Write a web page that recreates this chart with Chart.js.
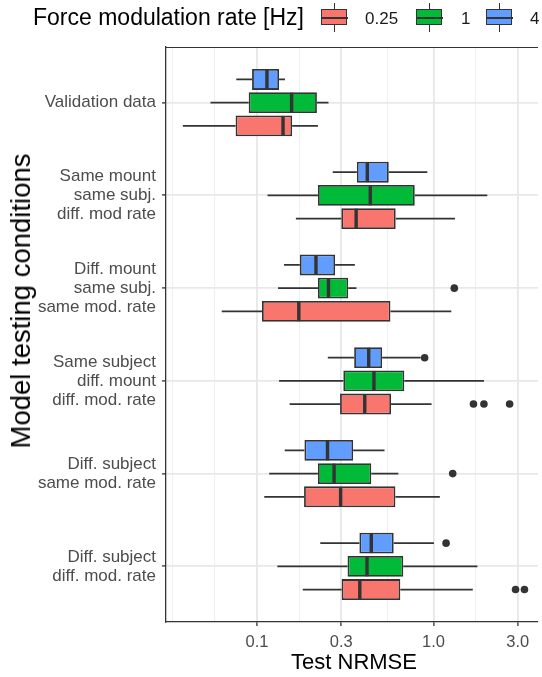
<!DOCTYPE html>
<html>
<head>
<meta charset="utf-8">
<script src="https://cdn.jsdelivr.net/npm/chart.js@4/dist/chart.umd.min.js"></script>
<style>
html,body{margin:0;padding:0;background:#fff;}
#wrap{position:relative;width:542px;height:677px;overflow:hidden;font-family:"Liberation Sans",Arial,sans-serif;color:#000;}
#c{position:absolute;left:0;top:0;}
.abs{position:absolute;white-space:nowrap;}
#ltitle{left:33px;top:6px;font-size:23px;line-height:23px;}
.lab{top:10px;font-size:17px;line-height:17px;color:#1a1a1a;}
.key{position:absolute;top:3px;width:27px;height:29px;}
.key .w{position:absolute;left:12.5px;top:0;width:1.8px;height:29px;background:#333;}
.key .b{position:absolute;left:0;top:5.5px;width:23.6px;height:14px;border:1.7px solid #333;}
.key .m{position:absolute;left:0;top:13.5px;width:27px;height:2.2px;background:#333;}
#ytitle{left:21px;top:301px;font-size:27.5px;line-height:28px;transform:translate(-50%,-50%) rotate(-90deg);}
#xtitle{left:354px;top:651px;font-size:22px;line-height:22px;transform:translateX(-50%);}
</style>
</head>
<body>
<div id="wrap">
  <canvas id="c" width="542" height="677"></canvas>
  <div id="ltitle" class="abs">Force modulation rate [Hz]</div>
  <div class="key" style="left:321px"><div class="w"></div><div class="b" style="background:#F8766D"></div><div class="m"></div></div>
  <div class="abs lab" style="left:365px">0.25</div>
  <div class="key" style="left:416px"><div class="w"></div><div class="b" style="background:#00BA38"></div><div class="m"></div></div>
  <div class="abs lab" style="left:461px">1</div>
  <div class="key" style="left:486px"><div class="w"></div><div class="b" style="background:#619CFF"></div><div class="m"></div></div>
  <div class="abs lab" style="left:530px">4</div>
  <div id="ytitle" class="abs">Model testing conditions</div>
  <div id="xtitle" class="abs">Test NRMSE</div>
</div>
<script>
// ---------- DATA ----------
const categories = [
  ["Validation data"],
  ["Same mount", "same subj.", "diff. mod rate"],
  ["Diff. mount", "same subj.", "same mod. rate"],
  ["Same subject", "diff. mount", "diff. mod. rate"],
  ["Diff. subject", "same mod. rate"],
  ["Diff. subject", "diff. mod. rate"]
];
const rateLabels = ["0.25", "1", "4"];

// 0.25 Hz
const low_025  = [0.038, 0.166, 0.0631, 0.153, 0.1099, 0.1816];
const q1_025   = [0.0756, 0.3003, 0.1067, 0.2954, 0.1847, 0.3015];
const med_025  = [0.1404, 0.3644, 0.1725, 0.4077, 0.2976, 0.3822];
const q3_025   = [0.1582, 0.6104, 0.570, 0.5744, 0.608, 0.6484];
const high_025 = [0.2213, 1.323, 1.261, 0.9745, 1.086, 1.669];
const out_025  = [[], [], [], [1.684, 1.93, 2.698], [], [2.915, 3.274]];

// 1 Hz
const low_1  = [0.0545, 0.1147, 0.1316, 0.1333, 0.1172, 0.1304];
const q1_1   = [0.0897, 0.2213, 0.2213, 0.3082, 0.2213, 0.3257];
const med_1  = [0.157, 0.4382, 0.254, 0.4597, 0.2733, 0.4199];
const q3_1   = [0.2184, 0.7826, 0.3287, 0.6828, 0.4439, 0.674];
const high_1 = [0.254, 2.017, 0.3658, 1.93, 0.632, 1.773];
const out_1  = [[], [], [1.311], [], [1.284], []];

// 4 Hz
const low_4  = [0.0763, 0.2685, 0.1422, 0.2518, 0.1435, 0.2282];
const q1_4   = [0.0938, 0.3677, 0.1748, 0.3551, 0.1856, 0.3802];
const med_4  = [0.1138, 0.4215, 0.2157, 0.4292, 0.2508, 0.4439];
const q3_4   = [0.1333, 0.5576, 0.2769, 0.5115, 0.3505, 0.5947];
const high_4 = [0.144, 0.922, 0.3583, 0.8457, 0.5277, 1.005];
const out_4  = [[], [], [], [0.8905], [], [1.178]];

const xTickValues = [0.1, 0.3, 1, 3];
const xTickLabels = ["0.1", "0.3", "1.0", "3.0"];
const xMinorGrid  = [0.0333, 0.0577, 0.1732, 0.5477, 1.732];

// ---------- BUILD ----------
// top-to-bottom order inside each group: 4 Hz, 1 Hz, 0.25 Hz
const series = [
  {name: rateLabels[2], color: "#619CFF", low: low_4, q1: q1_4, med: med_4, q3: q3_4, high: high_4, out: out_4},
  {name: rateLabels[1], color: "#00BA38", low: low_1, q1: q1_1, med: med_1, q3: q3_1, high: high_1, out: out_1},
  {name: rateLabels[0], color: "#F8766D", low: low_025, q1: q1_025, med: med_025, q3: q3_025, high: high_025, out: out_025}
];
const catPct = 0.75;
const slot = catPct / series.length;

const datasets = series.map(s => ({
  type: 'bar',
  label: s.name,
  data: categories.map((c, j) => ({y: j + 1, x: [s.q1[j], s.q3[j]]})),
  backgroundColor: s.color,
  borderColor: '#333333',
  borderWidth: 1.8,
  borderSkipped: false,
  categoryPercentage: catPct,
  barPercentage: 0.9,
  order: 2
}));
const outlierPts = [];
series.forEach((s, si) => {
  s.out.forEach((arr, j) => arr.forEach(v => outlierPts.push({x: v, y: j + 1 + (si - 1) * slot})));
});
datasets.push({
  type: 'scatter',
  label: 'outliers',
  data: outlierPts,
  backgroundColor: '#333333',
  borderWidth: 0,
  pointRadius: 3.8,
  order: 0
});

const boxExtras = {
  id: 'boxExtras',
  beforeDatasetsDraw(chart) {
    const ctx = chart.ctx, xs = chart.scales.x;
    ctx.save();
    ctx.strokeStyle = '#333333';
    ctx.lineWidth = 1.8;
    series.forEach((s, si) => {
      const meta = chart.getDatasetMeta(si);
      meta.data.forEach((bar, j) => {
        const y = bar.y;
        ctx.beginPath();
        ctx.moveTo(xs.getPixelForValue(s.low[j]), y);
        ctx.lineTo(xs.getPixelForValue(s.q1[j]), y);
        ctx.moveTo(xs.getPixelForValue(s.q3[j]), y);
        ctx.lineTo(xs.getPixelForValue(s.high[j]), y);
        ctx.stroke();
      });
    });
    ctx.restore();
  },
  afterDatasetsDraw(chart) {
    const ctx = chart.ctx, xs = chart.scales.x, a = chart.chartArea;
    ctx.save();
    ctx.strokeStyle = '#333333';
    ctx.lineWidth = 3.4;
    series.forEach((s, si) => {
      const meta = chart.getDatasetMeta(si);
      meta.data.forEach((bar, j) => {
        const xm = xs.getPixelForValue(s.med[j]);
        ctx.beginPath();
        ctx.moveTo(xm, bar.y - bar.height / 2 + 0.5);
        ctx.lineTo(xm, bar.y + bar.height / 2 - 0.5);
        ctx.stroke();
      });
    });
    ctx.lineWidth = 1.2;
    ctx.beginPath();
    ctx.moveTo(a.left, a.top + 0.5);
    ctx.lineTo(a.right, a.top + 0.5);
    ctx.stroke();
    ctx.restore();
  }
};

new Chart(document.getElementById('c'), {
  type: 'bar',
  data: {datasets},
  options: {
    indexAxis: 'y',
    responsive: false,
    animation: false,
    events: [],
    layout: {padding: {top: 47, left: 0, right: 0, bottom: 0}},
    plugins: {legend: {display: false}, tooltip: {enabled: false}},
    scales: {
      x: {
        type: 'logarithmic',
        position: 'bottom',
        offset: false,
        min: 0.0305,
        max: 3.907,
        afterBuildTicks(scale) {
          scale.ticks = xMinorGrid.map(v => ({value: v, minor: true}))
            .concat(xTickValues.map(v => ({value: v, major: true})))
            .sort((a, b) => a.value - b.value);
        },
        afterFit(scale) { scale.height = 55; },
        ticks: {
          autoSkip: false,
          maxRotation: 0,
          padding: 7,
          color: '#4D4D4D',
          font: {family: '"Liberation Sans", Arial, sans-serif', size: 16.5},
          callback(value) {
            const i = xTickValues.indexOf(value);
            return i >= 0 ? xTickLabels[i] : '';
          }
        },
        grid: {
          offset: false,
          color: ctx => (ctx.tick && ctx.tick.minor) ? '#EFEFEF' : '#E8E8E8',
          lineWidth: ctx => (ctx.tick && ctx.tick.minor) ? 1.1 : 1.8,
          tickColor: ctx => (ctx.tick && ctx.tick.minor) ? 'rgba(0,0,0,0)' : '#333333',
          tickLength: 4,
          tickWidth: 1.3
        },
        border: {display: true, color: '#333333', width: 1.3}
      },
      y: {
        type: 'linear',
        reverse: true,
        offset: false,
        min: 0.4,
        max: 6.6,
        afterBuildTicks(scale) {
          scale.ticks = categories.map((c, j) => ({value: j + 1}));
        },
        afterFit(scale) { scale.width = 166; },
        ticks: {
          autoSkip: false,
          padding: 6,
          color: '#4D4D4D',
          font: {family: '"Liberation Sans", Arial, sans-serif', size: 17, lineHeight: 1.12},
          callback(value) { return categories[Math.round(value) - 1] || ''; }
        },
        grid: {
          offset: false,
          color: '#E8E8E8',
          lineWidth: 1.8,
          tickColor: '#333333',
          tickLength: 4,
          tickWidth: 1.3
        },
        border: {display: true, color: '#333333', width: 1.3}
      }
    }
  },
  plugins: [boxExtras]
});
</script>
</body>
</html>
